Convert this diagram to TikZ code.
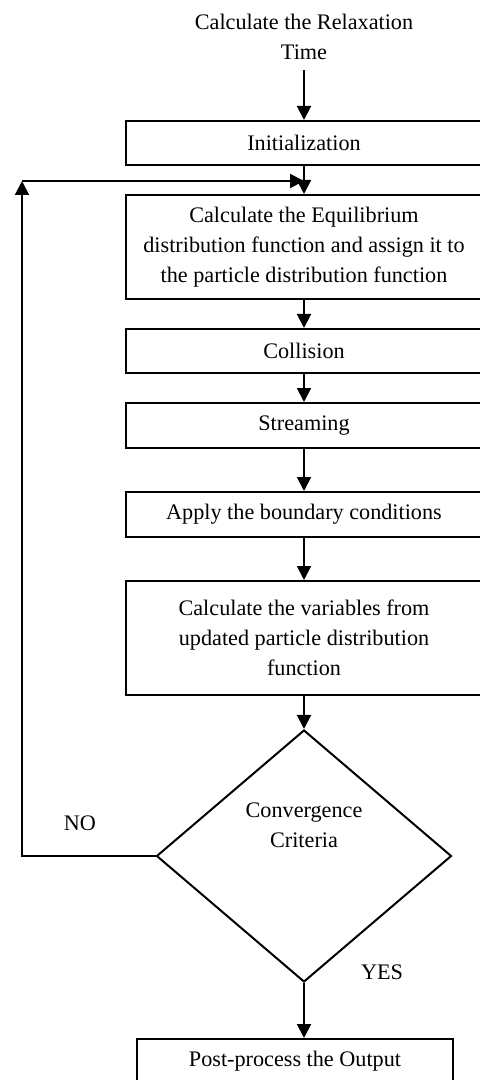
\documentclass[tikz,border=0pt]{standalone}
\usepackage{fontspec}
\setmainfont{Liberation Serif}
\usetikzlibrary{arrows.meta,shapes.geometric}

\tikzset{
    txt/.style={font=\fontsize{11.1}{15}\selectfont, align=center, inner sep=0pt},
    stepbox/.style={txt, draw, line width=1pt, minimum width=178pt},
    flow/.style={-{Triangle[length=7pt,width=7pt]}, line width=1pt}
}

\begin{document}
\begin{tikzpicture}[x=0.5pt,y=-0.5pt]
    \useasboundingbox (0,0) rectangle (480,1080);
    \clip (0,0) rectangle (480,1080);

    % steps
    \node[txt] (title) at (304,37) {Calculate the Relaxation\\Time};
    \node[stepbox, minimum height=22pt] (init) at (304,143) {Initialization};
    \node[stepbox, minimum height=52pt] (equil) at (304,247)
        {Calculate the Equilibrium\\distribution function and assign it to\\the particle distribution function};
    \node[stepbox, minimum height=22pt] (coll) at (304,351) {Collision};
    \node[stepbox, minimum height=22.5pt] (stream) at (304,425.5) {Streaming};
    \node[stepbox, minimum height=22.5pt] (apply) at (304,514.5) {Apply the boundary conditions};
    \node[stepbox, minimum height=57pt] (calc) at (304,638)
        {Calculate the variables from\\updated particle distribution\\function};

    % decision
    \node[draw, diamond, line width=1pt, inner sep=0pt, minimum width=147.5pt, minimum height=126pt] (cv) at (304,856) {};
    \node[txt] (cvtext) at (304,825) {Convergence\\Criteria};
    \node[txt] (no) at (80,823) {NO};
    \node[txt] (yes) at (382,972) {YES};

    \node[stepbox, minimum width=158pt, minimum height=22pt] (post) at (295,1061) {Post-process the Output};

    \coordinate (loopc) at (22,181);
    \coordinate (join) at (304,181);

    % arrows
    \draw[flow, shorten <=5pt] (title.south) -- (init.north);
    \draw[flow] (init) -- (equil);
    \draw[flow] (equil) -- (coll);
    \draw[flow] (coll) -- (stream);
    \draw[flow] (stream) -- (apply);
    \draw[flow] (apply) -- (calc);
    \draw[flow] (calc) -- (cv);
    \draw[flow] (cv.south) -- (cv.south |- post.north);
    \draw[flow] (cv.west) -| (loopc);
    \draw[flow] (loopc) -- (join);
\end{tikzpicture}
\end{document}
